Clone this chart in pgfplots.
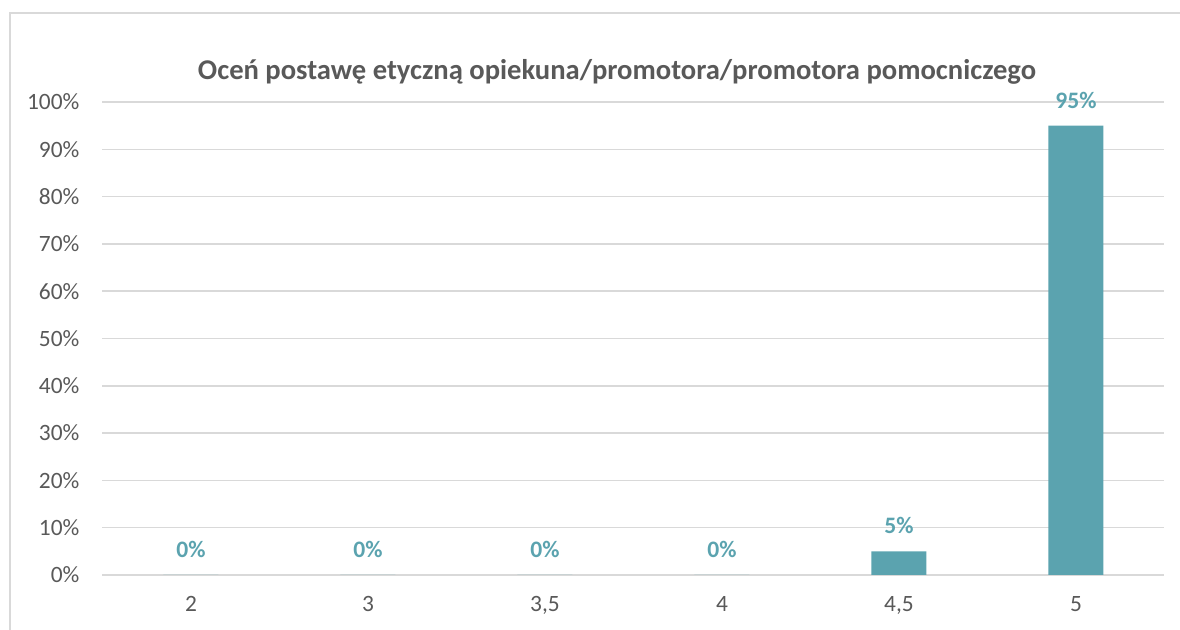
\documentclass[border=0pt]{standalone}
\usepackage{fontspec}
\setmainfont{Carlito}
\usepackage{pgfplots}
\pgfplotsset{compat=1.18}
\definecolor{bar}{HTML}{5BA3AF}
\definecolor{txt}{HTML}{595959}
\definecolor{gridc}{HTML}{D9D9D9}
\begin{document}
\begin{tikzpicture}
\path[use as bounding box] (0pt,0pt) rectangle (590pt,315pt);
\draw[gridc, line width=1pt] (5pt,0pt) -- (5pt,308.5pt) -- (590pt,308.5pt);
\node[font=\fontsize{14.3}{16}\selectfont\bfseries, text=txt] at (308.5pt,279pt) {Oceń postawę etyczną opiekuna/promotora/promotora pomocniczego};
\begin{axis}[
  at={(51.25pt,27.5pt)}, anchor=south west,
  scale only axis, width=531pt, height=236.5pt,
  ymin=0, ymax=100, ytick={0,10,...,100},
  yticklabel={\pgfmathprintnumber{\tick}\%},
  xmin=-0.5, xmax=5.5, xtick={0,...,5},
  xticklabels={2,3,{3,5},4,{4,5},5},
  axis line style={draw=none},
  major tick length=0pt,
  ymajorgrids, grid style={draw=gridc, line width=0.75pt},
  tick label style={font=\fontsize{11.7}{14}\selectfont, text=txt},
  /pgf/number format/assume math mode=true,
  yticklabel style={xshift=-8pt},
  xticklabel style={yshift=-7pt},
  ybar, bar width=27.5pt,
  nodes near coords={\pgfmathprintnumber{\pgfplotspointmeta}\%},
  every node near coord/.append style={font=\fontsize{11.8}{14}\selectfont\bfseries, text=bar, anchor=base, inner sep=0pt, yshift=8.75pt},
]
\addplot[fill=bar, draw=none] coordinates {(0,0) (1,0) (2,0) (3,0) (4,5) (5,95)};
\end{axis}
\end{tikzpicture}
\end{document}
